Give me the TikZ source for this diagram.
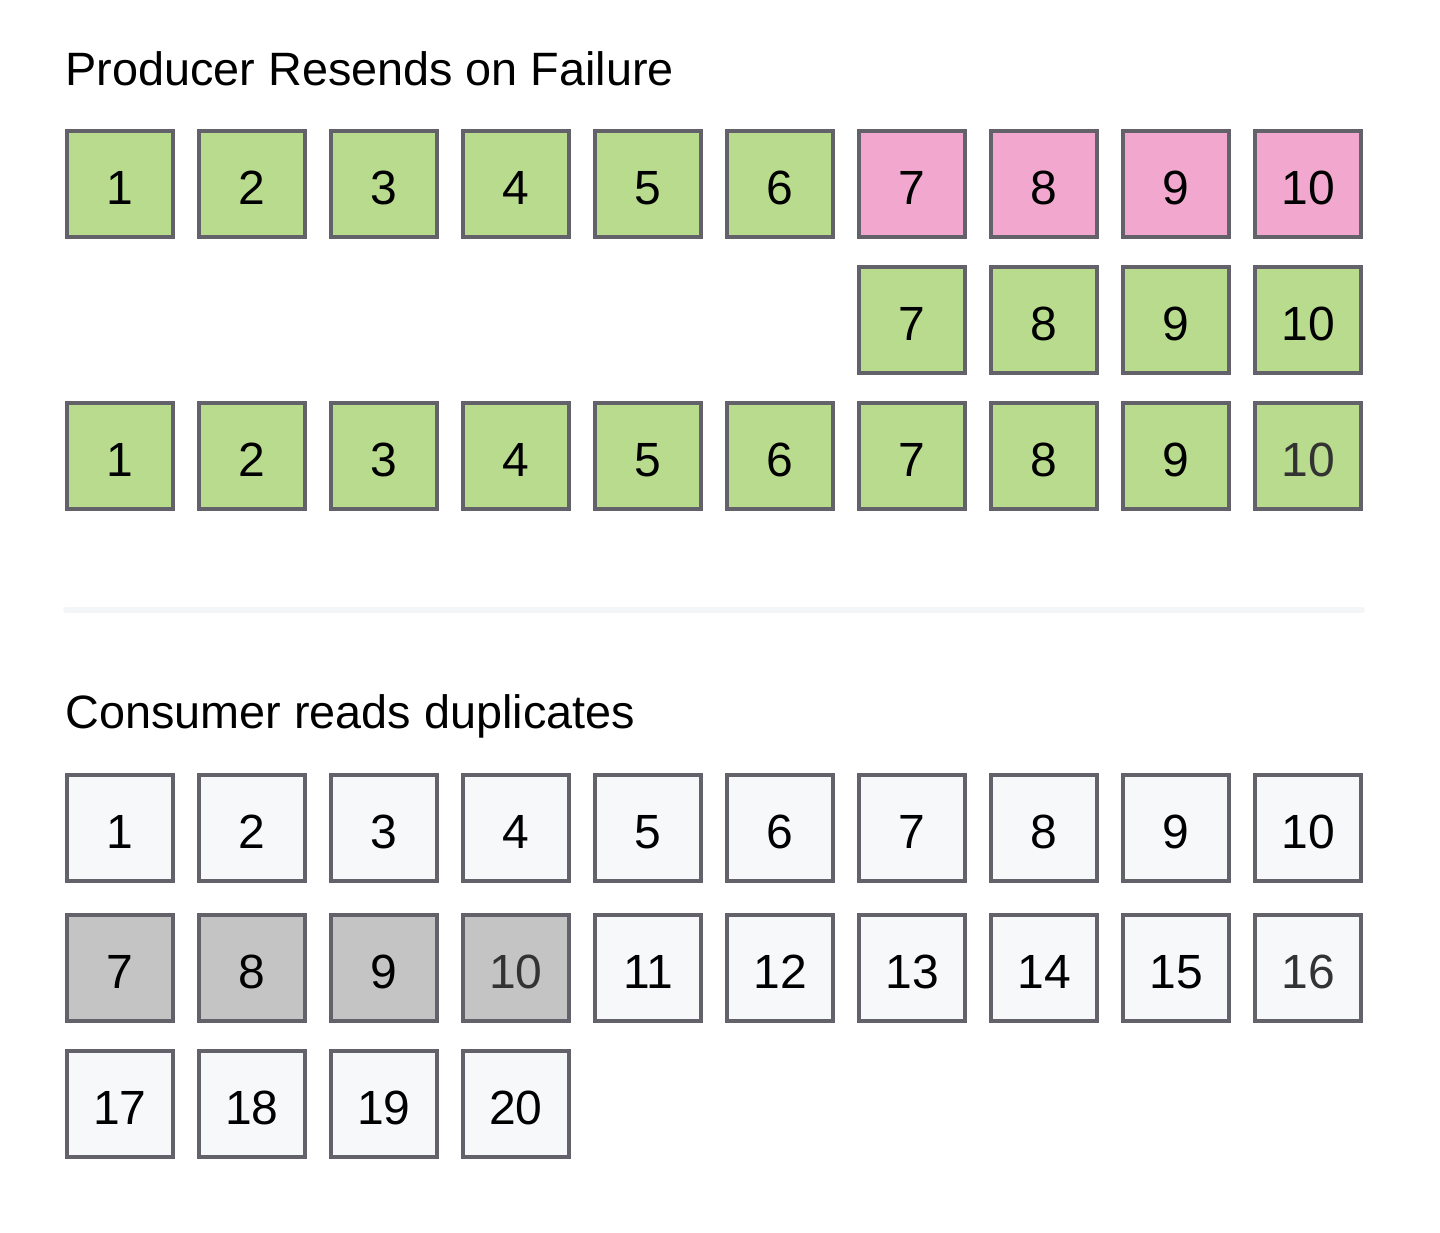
\documentclass[tikz,border=0pt]{standalone}
\usepackage{fontspec}
\setmainfont{Liberation Sans}
\usepackage{tikz}
\usetikzlibrary{positioning}
\definecolor{okgreen}{HTML}{B9DB8D}
\definecolor{failpink}{HTML}{F2A7CF}
\definecolor{dupgray}{HTML}{C4C4C4}
\definecolor{readwhite}{HTML}{F7F8FA}
\definecolor{edgegray}{HTML}{63626B}
\definecolor{rulegray}{HTML}{F4F5F7}
\definecolor{softblack}{HTML}{333333}
\tikzset{cell/.style = {rectangle,draw=edgegray,line width=2pt,minimum size=53pt,inner sep=0pt,text depth=0pt,text height=20pt,font=\fontsize{24}{24}\selectfont},
         good/.style = {cell,fill=okgreen},
         fail/.style = {cell,fill=failpink},
         dup/.style = {cell,fill=dupgray},
         read/.style = {cell,fill=readwhite},
         soft/.style = {text=softblack},
         heading/.style = {anchor=base west,inner sep=0pt,font=\fontsize{23.4}{23.4}\selectfont}}

\begin{document}
\begin{tikzpicture}[x=0.5pt,y=-0.5pt]
                \useasboundingbox (0,0) rectangle (1440,1232);
                \node [heading] (ptitle) at (65,85) {Producer Resends on Failure};
                \foreach \x in {1,...,10} {
                    \ifnum \x<7
                        \node [good] (a\x) at (120+132*\x-132,184) {\x};
                    \else
                        \node [fail] (a\x) at (120+132*\x-132,184) {\x};
                        \node [good] (b\x) at (120+132*\x-132,320) {\x};
                    \fi
                    \ifnum \x=10
                        \node [good,soft] (c\x) at (120+132*\x-132,456) {\x};
                    \else
                        \node [good] (c\x) at (120+132*\x-132,456) {\x};
                    \fi
                }
                \draw [rulegray,line width=3pt,line cap=round] (66,610) -- (1362,610);
                \node [heading] (ctitle) at (65,728) {Consumer reads duplicates};
                \foreach \x in {1,...,10} {
                    \node [read] (r\x) at (120+132*\x-132,828) {\x};
                }
                \foreach \x [count=\i] in {7,8,9} {
                    \node [dup] (d\x) at (120+132*\i-132,968) {\x};
                }
                \node [dup,soft] (d10) at (516,968) {10};
                \foreach \x [count=\i from 5] in {11,...,15} {
                    \node [read] (r\x) at (120+132*\i-132,968) {\x};
                }
                \node [read,soft] (r16) at (1308,968) {16};
                \foreach \x [count=\i] in {17,...,20} {
                    \node [read] (r\x) at (120+132*\i-132,1104) {\x};
                }
\end{tikzpicture}
\end{document}
